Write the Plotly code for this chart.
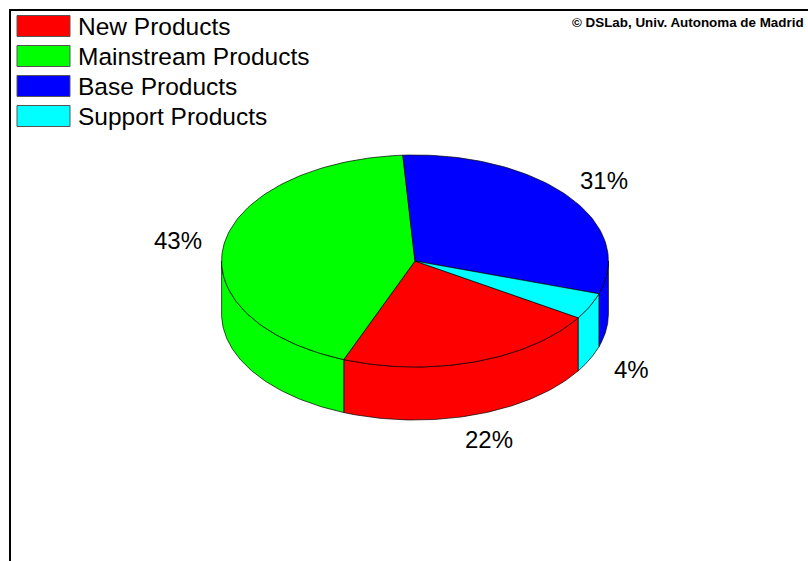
import numpy as np
import plotly.graph_objects as go

# Data
categories = ["New Products", "Mainstream Products", "Base Products", "Support Products"]
values = [22, 43, 31, 4]
colors = ["#FF0000", "#00FF00", "#0000FF", "#00FFFF"]

# Pie geometry in page pixels (y grows downward)
W, H = 808, 561
cx, cy = 415.0, 261.0          # centre of the top face
rx, ry = 193.4, 106.0          # ellipse radii of the top face
depth = 53.0                   # wall height of the cylinder
start_deg = -32.4              # slices run clockwise from here
label_k = 1.24

FONT = "Arial, Liberation Sans, sans-serif"

total = float(sum(values))
spans = [v / total * 360.0 for v in values]
bounds = []
a = start_deg
for s in spans:
    bounds.append((a, a - s))   # clockwise: angle decreases
    a -= s


def ell(theta_deg, dz=0.0):
    t = np.radians(theta_deg)
    return cx + rx * np.cos(t), cy - ry * np.sin(t) + dz


fig = go.Figure()
edge = dict(color="black", width=0.7)

# Front walls (only the part of each slice facing the viewer: 180..360 deg)
for (a0, a1), col in zip(bounds, colors):
    lo, hi = min(a0, a1), max(a0, a1)
    for shift in (-720, -360, 0, 360):
        s0, s1 = max(lo, 180 + shift), min(hi, 360 + shift)
        if s1 - s0 <= 1e-6:
            continue
        th = np.linspace(s0, s1, 80)
        xt, yt = ell(th)
        xb, yb = ell(th[::-1], depth)
        xs = np.concatenate([xt, xb, xt[:1]])
        ys = np.concatenate([yt, yb, yt[:1]])
        fig.add_trace(go.Scatter(x=xs, y=ys, mode="lines", fill="toself",
                                 fillcolor=col, line=edge, hoverinfo="skip",
                                 showlegend=False))

# Top faces
for (a0, a1), col in zip(bounds, colors):
    n = max(int(abs(a1 - a0) / 1.5), 4)
    th = np.linspace(a0, a1, n)
    xa, ya = ell(th)
    xs = np.concatenate([[cx], xa, [cx]])
    ys = np.concatenate([[cy], ya, [cy]])
    fig.add_trace(go.Scatter(x=xs, y=ys, mode="lines", fill="toself",
                             fillcolor=col, line=edge, hoverinfo="skip",
                             showlegend=False))

# Percentage labels
annotations = []
for (a0, a1), v in zip(bounds, values):
    mid = (a0 + a1) / 2.0
    t = np.radians(mid)
    lx = cx + label_k * rx * np.cos(t)
    ly = cy - label_k * ry * np.sin(t) + (depth if np.sin(t) < 0 else 0.0)
    annotations.append(dict(x=lx, y=ly, xref="x", yref="y",
                            text=f"{v / total * 100:.0f}%", showarrow=False,
                            font=dict(family=FONT, size=24, color="black"),
                            xanchor="center", yanchor="middle"))

# Legend boxes and names
shapes = []
for i, (name, col) in enumerate(zip(categories, colors)):
    yc = 26 + 30 * i
    shapes.append(dict(type="rect", xref="x", yref="y", x0=17, x1=70,
                       y0=yc - 10.5, y1=yc + 10.5, fillcolor=col,
                       line=dict(color="#555555", width=1)))
    annotations.append(dict(x=76, y=yc, xref="x", yref="y", text=name,
                            showarrow=False, xanchor="left", yanchor="middle",
                            font=dict(family=FONT, size=24.5, color="black")))

# Frame (top and left edges)
shapes.append(dict(type="line", xref="x", yref="y", x0=10, y0=H + 5, x1=10, y1=10,
                   line=dict(color="black", width=2)))
shapes.append(dict(type="line", xref="x", yref="y", x0=9, y0=10, x1=W + 5, y1=10,
                   line=dict(color="black", width=2)))

annotations.append(dict(x=570, y=22, xref="x", yref="y",
                        text="<b>© DSLab, Univ. Autonoma de Madrid</b>",
                        showarrow=False, xanchor="left", yanchor="middle",
                        font=dict(family=FONT, size=13.4, color="black")))

fig.update_layout(
    width=W, height=H,
    margin=dict(l=0, r=0, t=0, b=0),
    paper_bgcolor="white", plot_bgcolor="white",
    xaxis=dict(range=[0, W], visible=False, fixedrange=True),
    yaxis=dict(range=[H, 0], visible=False, fixedrange=True),
    shapes=shapes, annotations=annotations, showlegend=False,
)

fig.write_html("out.html")
